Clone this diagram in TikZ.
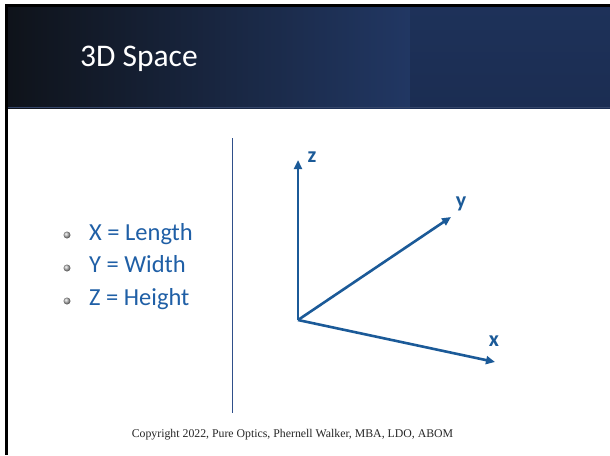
\documentclass[tikz,border=0pt]{standalone}
\usepackage{fontspec}
\setmainfont{Carlito}
\newfontfamily\copyfont{Liberation Serif}
\usetikzlibrary{arrows.meta}
\definecolor{navyR}{HTML}{213763}
\definecolor{navyL}{HTML}{0F131A}
\definecolor{navyS}{HTML}{1B2D52}
\definecolor{axisblue}{HTML}{1B5A98}
\definecolor{textblue}{HTML}{1F5FA6}
\definecolor{divider}{HTML}{2F4F8A}
\tikzset{
  bullettext/.style={anchor=base west, inner sep=0pt, text=textblue, font=\fontsize{24.5}{28}\selectfont},
  bulletdot/.style={circle, inner sep=0pt, minimum size=7pt, shading=ball, ball color=gray!55},
  axisarrow/.style={draw=axisblue, line width=2.6pt, -{Triangle[length=9pt,width=8pt]}},
  axislabel/.style={inner sep=0pt, text=axisblue, font=\bfseries\fontsize{22}{24}\selectfont},
}
\begin{document}
\begin{tikzpicture}[x=1pt,y=-1pt]
\useasboundingbox (0,0) rectangle (610,455);
\fill[white] (0,0) rectangle (610,455);
% header band
\shade[left color=navyL, right color=navyR] (7,7) rectangle (410,108);
\shade[top color=navyR!90!black, bottom color=navyS] (410,7) rectangle (610,108);
\draw[line width=1pt, color=navyR!80!gray] (7,107.5) -- (610,107.5);
% frame lines
\fill[black] (5,4) rectangle (610,7);
\fill[black] (5,4) rectangle (7.5,455);
% title
\node[anchor=base west, inner sep=0pt, text=white, font=\fontsize{31.5}{36}\selectfont] (title) at (80,66) {3D Space};
% divider
\coordinate (dtop) at (232.5,138);
\coordinate (dbot) at (232.5,413);
\draw[divider, line width=1.5pt] (dtop) -- (dbot);
% bullets
\node[bulletdot] (b1) at (67,235) {};
\node[bulletdot] (b2) at (67,268) {};
\node[bulletdot] (b3) at (67,301) {};
\node[bullettext] (t1) at (89,240) {X = Length};
\node[bullettext] (t2) at (89,272) {Y = Width};
\node[bullettext] (t3) at (89,305) {Z = Height};
% axes
\coordinate (o) at (298,320);
\coordinate (zt) at (298,160);
\coordinate (yt) at (451,217);
\coordinate (xt) at (495,362);
\draw[axisarrow] (o) -- (zt);
\draw[axisarrow] (o) -- (yt);
\draw[axisarrow] (o) -- (xt);
\node[axislabel] (zl) at (312,157) {z};
\node[axislabel] (yl) at (461,204) {y};
\node[axislabel] (xl) at (494,341) {x};
% footer
\node[inner sep=0pt, text=black!85, font=\copyfont\fontsize{11.8}{13}\selectfont] (copy) at (292.5,435) {Copyright 2022, Pure Optics, Phernell Walker, MBA, LDO, ABOM};
\end{tikzpicture}
\end{document}
